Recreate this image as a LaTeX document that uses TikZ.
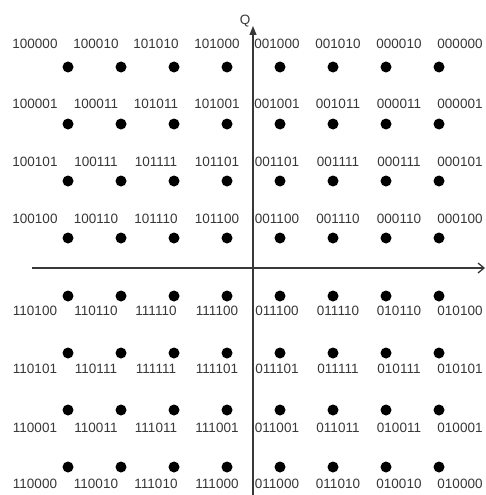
\documentclass[tikz,border=0pt]{standalone}
\usepackage{fontspec}
\setmainfont{Liberation Sans}
\usetikzlibrary{arrows.meta}
\begin{document}
\begin{tikzpicture}[x=1pt,y=-1pt,
  lbl/.style={font=\fontsize{13.5}{14}\selectfont, text=black!78, inner sep=0pt, anchor=center},
  dotmark/.style={circle, fill=black, inner sep=0pt, minimum size=11pt},
  axisline/.style={draw=black!78, line width=1.1pt}]
\useasboundingbox (0,0) rectangle (486,495);
\fill[white] (0,0) rectangle (486,495);
% axes
\coordinate (xl) at (32,268);
\coordinate (xr) at (485,268);
\coordinate (yb) at (253,495);
\coordinate (yt) at (253,26);
\draw[axisline,-{Straight Barb[length=6pt,width=10pt,line width=1.3pt]}] (xl) -- (xr);
\draw[axisline,-{Triangle[length=9pt,width=7pt]}] (yb) -- (yt);
\node[lbl] (q) at (245,21) {Q};
% labels and dots
\foreach \r/\ly/\dy/\codes in {
  1/44/67/{100000,100010,101010,101000,001000,001010,000010,000000},
  2/104/124/{100001,100011,101011,101001,001001,001011,000011,000001},
  3/162/181/{100101,100111,101111,101101,001101,001111,000111,000101},
  4/219/238/{100100,100110,101110,101100,001100,001110,000110,000100},
  5/311/296/{110100,110110,111110,111100,011100,011110,010110,010100},
  6/369/353/{110101,110111,111111,111101,011101,011111,010111,010101},
  7/428/410/{110001,110011,111011,111001,011001,011011,010011,010001},
  8/484/467/{110000,110010,111010,111000,011000,011010,010010,010000}} {
  \foreach \c [count=\i from 0] in \codes {
    \pgfmathsetmacro\lx{{35,96,156,217,277,338,399,460}[\i]}
    \pgfmathsetmacro\dx{68+53*\i}
    \node[lbl] (l\r-\i) at (\lx,\ly) {\c};
    \node[dotmark] (d\r-\i) at (\dx,\dy) {};
  }
}
\end{tikzpicture}
\end{document}
